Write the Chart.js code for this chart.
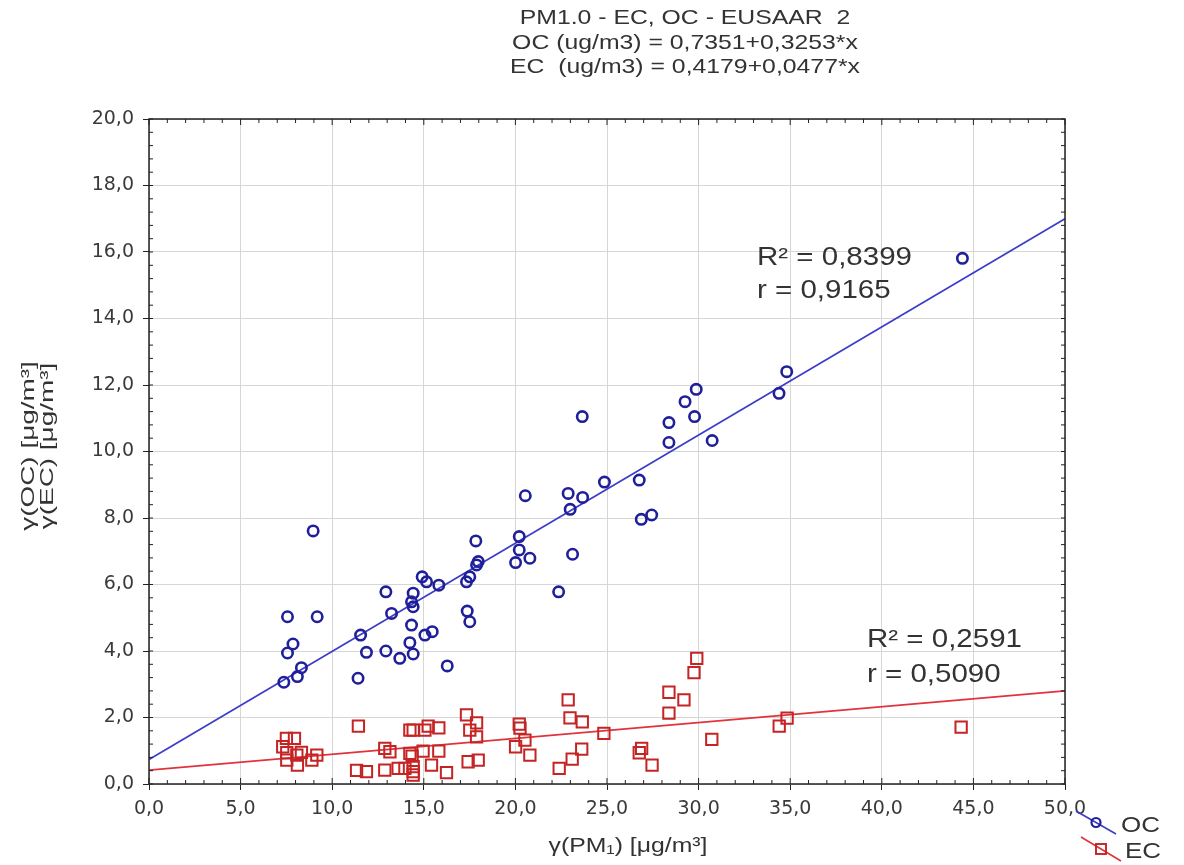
<!DOCTYPE html>
<html>
<head>
<meta charset="utf-8">
<script src="https://cdn.jsdelivr.net/npm/chart.js@4"></script>
<style>
  html, body { margin: 0; padding: 0; background: #ffffff; }
  #wrap { width: 1184px; height: 865px; position: relative; }
</style>
</head>
<body>
<div id="wrap"><canvas id="c" width="1184" height="865"></canvas></div>
<script>
// ---- Data ----
const titleLines = ["PM1.0 - EC, OC - EUSAAR  2", "OC (ug/m3) = 0,7351+0,3253*x", "EC  (ug/m3) = 0,4179+0,0477*x"];
const xTitle = "γ(PM\u2081) [μg/m³]";
const yTitleLines = ["γ(OC) [μg/m³]", "γ(EC) [μg/m³]"];
const seriesNames = ["OC", "EC"];
const ocStats = ["R² = 0,8399", "r = 0,9165"];
const ecStats = ["R² = 0,2591", "r = 0,5090"];

const ocX = [7.36, 7.56, 7.56, 7.86, 8.10, 8.32, 8.96, 9.18, 11.41, 11.55, 11.87, 12.93, 12.93, 13.24, 13.69,
  14.24, 14.42, 14.33, 14.42, 14.33, 14.42, 14.91, 15.15, 15.82, 15.06, 15.46, 16.28, 17.33, 17.51, 17.88,
  17.97, 17.84, 17.37, 17.51, 20.01, 20.21, 20.21, 20.54, 20.79, 22.36, 22.88, 22.99, 23.12, 23.67, 23.65,
  24.86, 26.76, 26.87, 27.44, 28.38, 28.38, 29.26, 29.78, 29.87, 30.74, 34.39, 34.81, 44.40];
const ocY = [3.06, 3.94, 5.03, 4.21, 3.23, 3.50, 7.61, 5.03, 3.18, 4.48, 3.96, 5.78, 4.00, 5.13, 3.78,
  4.25, 3.91, 4.78, 5.33, 5.48, 5.74, 6.23, 6.08, 5.98, 4.48, 4.58, 3.55, 6.08, 6.23, 6.59,
  6.69, 7.31, 5.20, 4.88, 6.66, 7.04, 7.44, 8.67, 6.79, 5.78, 8.74, 8.26, 6.91, 8.62, 11.05,
  9.08, 9.14, 7.96, 8.09, 10.87, 10.27, 11.50, 11.05, 11.87, 10.33, 11.75, 12.40, 15.81];

const ecX = [7.50, 7.94, 7.30, 7.52, 7.52, 8.07, 8.10, 8.32, 8.89, 9.16, 11.43, 11.33, 11.87, 12.87, 13.15,
  12.87, 13.60, 14.24, 14.42, 15.06, 15.24, 15.82, 14.24, 14.36, 14.96, 15.82, 13.97, 14.42, 14.42, 14.42,
  15.42, 16.24, 17.33, 17.88, 17.51, 17.88, 17.42, 17.97, 20.21, 20.25, 20.52, 20.01, 20.79, 22.39, 22.88,
  22.98, 23.65, 23.10, 23.62, 24.83, 26.89, 26.76, 27.46, 28.38, 28.38, 29.20, 29.75, 29.90, 30.72, 34.40,
  34.83, 44.33];
const ecY = [1.37, 1.37, 1.12, 0.94, 0.72, 0.87, 0.57, 0.95, 0.72, 0.87, 1.74, 0.41, 0.37, 1.07, 0.97,
  0.42, 0.47, 1.62, 1.62, 1.62, 1.74, 1.69, 0.92, 0.84, 0.99, 0.99, 0.47, 0.52, 0.37, 0.27,
  0.57, 0.34, 2.08, 1.84, 1.62, 1.42, 0.67, 0.72, 1.80, 1.68, 1.32, 1.12, 0.87, 0.47, 2.53,
  1.99, 1.87, 0.75, 1.05, 1.52, 1.07, 0.94, 0.57, 2.76, 2.13, 2.53, 3.35, 3.78, 1.34, 1.74,
  1.98, 1.71];

// fitted lines: end points (x = 0 and x = 50)
const fitX = [0, 50];
const ocFitY = [0.74, 17.0];
const ecFitY = [0.42, 2.80];

const xTicks = [0, 5, 10, 15, 20, 25, 30, 35, 40, 45, 50];
const yTicks = [0, 2, 4, 6, 8, 10, 12, 14, 16, 18, 20];

// ---- Styles ----
const OC_MARK = '#1f1f99', OC_LINE = '#3c3cc8';
const EC_MARK = '#c42424', EC_LINE = '#e0343c';
const TXT = '#333333';
const ARIAL = '"Liberation Sans", Arial, sans-serif';
const SX = 1.18; // horizontal stretch of the reference text
const fmt = v => v.toFixed(1).replace('.', ',');
const zip = (xs, ys) => xs.map((x, i) => ({ x: x, y: ys[i] }));

function wideText(ctx, txt, x, y, align, sx) {
  ctx.save();
  ctx.translate(x, y);
  ctx.scale(sx || SX, 1);
  ctx.textAlign = align;
  ctx.fillText(txt, 0, 0);
  ctx.restore();
}

const decorPlugin = {
  id: 'decor',
  afterDraw(chart) {
    const ctx = chart.ctx;
    const a = chart.chartArea;
    const xs = chart.scales.x, ys = chart.scales.y;
    ctx.save();
    // border box
    ctx.strokeStyle = '#222';
    ctx.lineWidth = 1.5;
    ctx.strokeRect(a.left, a.top, a.right - a.left, a.bottom - a.top);
    // minor ticks (inside)
    ctx.lineWidth = 1;
    ctx.beginPath();
    for (let v = 0; v <= 50.001; v += 1) {
      const px = xs.getPixelForValue(v);
      const len = (Math.abs(v % 5) < 0.01) ? 6 : 4;
      ctx.moveTo(px, a.bottom); ctx.lineTo(px, a.bottom - len);
      ctx.moveTo(px, a.top); ctx.lineTo(px, a.top + len);
    }
    for (let v = 0; v <= 20.001; v += 0.4) {
      const py = ys.getPixelForValue(v);
      ctx.moveTo(a.left, py); ctx.lineTo(a.left + 4, py);
      ctx.moveTo(a.right, py); ctx.lineTo(a.right - 4, py);
    }
    ctx.stroke();

    // title
    ctx.fillStyle = TXT;
    ctx.textBaseline = 'middle';
    ctx.font = '21px ' + ARIAL;
    const tY = [18, 43, 67];
    titleLines.forEach((t, i) => wideText(ctx, t, 685, tY[i], 'center'));

    // x title
    ctx.font = '21px ' + ARIAL;
    wideText(ctx, xTitle, 628, 846, 'center');

    // y title (rotated)
    ctx.save();
    ctx.rotate(-Math.PI / 2);
    ctx.font = '18px ' + ARIAL;
    wideText(ctx, yTitleLines[0], -446, 29, 'center', 1.55);
    wideText(ctx, yTitleLines[1], -446, 48, 'center', 1.55);
    ctx.restore();

    // stats annotations
    ctx.font = '25px ' + ARIAL;
    wideText(ctx, ocStats[0], 757, 258, 'left');
    wideText(ctx, ocStats[1], 757, 291, 'left');
    wideText(ctx, ecStats[0], 867, 640, 'left');
    wideText(ctx, ecStats[1], 867, 675, 'left');

    // legend
    ctx.lineWidth = 1.6;
    ctx.strokeStyle = OC_LINE;
    ctx.beginPath(); ctx.moveTo(1076, 811); ctx.lineTo(1116, 834); ctx.stroke();
    ctx.strokeStyle = OC_MARK; ctx.lineWidth = 2.2;
    ctx.beginPath(); ctx.arc(1096, 822.5, 4.5, 0, Math.PI * 2); ctx.stroke();
    ctx.lineWidth = 1.6;
    ctx.strokeStyle = EC_LINE;
    ctx.beginPath(); ctx.moveTo(1081, 837); ctx.lineTo(1121, 861); ctx.stroke();
    ctx.strokeStyle = EC_MARK; ctx.lineWidth = 1.9;
    ctx.strokeRect(1096, 844, 10, 10);
    ctx.fillStyle = TXT;
    ctx.font = '22px ' + ARIAL;
    wideText(ctx, seriesNames[0], 1121, 826, 'left');
    wideText(ctx, seriesNames[1], 1125, 852, 'left');
    ctx.restore();
  }
};

new Chart(document.getElementById('c'), {
  type: 'scatter',
  data: {
    datasets: [
      { label: seriesNames[0] + ' fit', data: zip(fitX, ocFitY), showLine: true, borderColor: OC_LINE,
        borderWidth: 1.7, pointRadius: 0, order: 3 },
      { label: seriesNames[1] + ' fit', data: zip(fitX, ecFitY), showLine: true, borderColor: EC_LINE,
        borderWidth: 1.7, pointRadius: 0, order: 3 },
      { label: seriesNames[0], data: zip(ocX, ocY), pointStyle: 'circle', pointRadius: 5.2,
        borderColor: OC_MARK, backgroundColor: 'rgba(0,0,0,0)', pointBorderWidth: 2.6, order: 1 },
      { label: seriesNames[1], data: zip(ecX, ecY), pointStyle: 'rect', pointRadius: 8,
        borderColor: EC_MARK, backgroundColor: 'rgba(0,0,0,0)', pointBorderWidth: 2, order: 2 }
    ]
  },
  options: {
    responsive: false,
    animation: false,
    events: [],
    layout: { padding: { left: 0, top: 119, right: 119, bottom: 0 } },
    plugins: { legend: { display: false }, tooltip: { enabled: false }, title: { display: false } },
    scales: {
      x: {
        type: 'linear', min: 0, max: 50,
        afterBuildTicks: s => { s.ticks = xTicks.map(v => ({ value: v })); },
        afterFit: s => { s.height = 81; },
        ticks: { callback: v => fmt(v), color: '#3a3a3a', padding: 8,
          font: { family: '"DejaVu Sans", Verdana, sans-serif', size: 19 } },
        grid: { color: '#d6d6d6', lineWidth: 1, tickColor: '#222', tickLength: 6 },
        border: { display: false }
      },
      y: {
        type: 'linear', min: 0, max: 20,
        afterBuildTicks: s => { s.ticks = yTicks.map(v => ({ value: v })); },
        afterFit: s => { s.width = 149; },
        ticks: { callback: v => fmt(v), color: '#3a3a3a', padding: 9,
          font: { family: '"DejaVu Sans", Verdana, sans-serif', size: 19 } },
        grid: { color: '#d6d6d6', lineWidth: 1, tickColor: '#222', tickLength: 6 },
        border: { display: false }
      }
    }
  },
  plugins: [decorPlugin]
});
</script>
</body>
</html>
